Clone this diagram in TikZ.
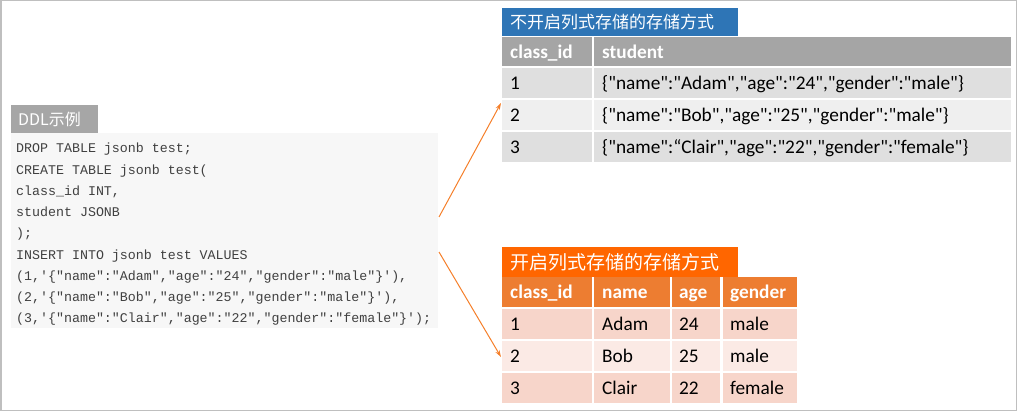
\documentclass[tikz,border=0pt]{standalone}
\usepackage{fontspec}
\setmonofont{Liberation Mono}
\newfontfamily\tabfont{Carlito}
\newfontfamily\cjk{Noto Sans CJK SC}
\usetikzlibrary{arrows.meta}
\definecolor{framegray}{HTML}{BFBFBF}
\definecolor{ddlgray}{HTML}{A6A6A6}
\definecolor{codebg}{HTML}{F7F7F7}
\definecolor{codetext}{HTML}{404040}
\definecolor{blueA}{HTML}{2E75B6}
\definecolor{hdrgray}{HTML}{A5A5A5}
\definecolor{rowgrayA}{HTML}{DFDFDF}
\definecolor{rowgrayB}{HTML}{EFEFEF}
\definecolor{orangeA}{HTML}{FF6600}
\definecolor{orangehdr}{HTML}{ED7D31}
\definecolor{peachA}{HTML}{F7D5CA}
\definecolor{peachB}{HTML}{FBEAE5}
\definecolor{arrowc}{HTML}{F57F2A}

\tikzset{
  cell/.style={anchor=north west, minimum height=30pt, inner xsep=8pt, inner ysep=0pt,
               align=left, text height=14pt, text depth=1pt,
               font=\tabfont\fontsize{19.3}{21}\selectfont, text=black},
  hcell/.style={cell, minimum height=29pt, text=white,
                font=\tabfont\bfseries\fontsize{19.3}{21}\selectfont},
  titlebox/.style={anchor=north west, inner xsep=8pt, inner ysep=0pt, align=left,
                   text=white, font=\cjk\fontsize{17}{20}\selectfont},
  link/.style={->, arrowc, line width=1pt}
}

\begin{document}
\begin{tikzpicture}[x=1pt, y=-1pt, >={Stealth[length=7pt,width=4.5pt]},
                    every node/.style={inner sep=0pt}]
  \useasboundingbox (0,0) rectangle (1018,412);
  \draw[framegray, line width=1.5pt] (0.75,0.75) rectangle (1016.5,410.5);

  % DDL example on the left
  \node[fill=codebg, anchor=north west, minimum width=427pt, minimum height=195pt]
       (code) at (11,133) {};
  \node[titlebox, fill=ddlgray, text width=73pt, minimum height=28pt, inner xsep=7pt,
        font=\cjk\fontsize{16}{20}\selectfont] (ddl) at (11,105) {DDL示例};
  \node[anchor=north west, align=left, text=codetext,
        font=\ttfamily\fontsize{13.3}{21.25}\selectfont] (ddltext) at (16,143)
       {DROP TABLE jsonb test;\\
        CREATE TABLE jsonb test(\\
        class\_id INT,\\
        student JSONB\\
        );\\
        INSERT INTO jsonb test VALUES\\
        (1,'\{"name":"Adam","age":"24","gender":"male"\}'),\\
        (2,'\{"name":"Bob","age":"25","gender":"male"\}'),\\
        (3,'\{"name":"Clair","age":"22","gender":"female"\}');};

  % without column store
  \node[titlebox, fill=blueA, text width=220pt, minimum height=28pt]
       (title1) at (502,8) {不开启列式存储的存储方式};
  \node[hcell, fill=hdrgray, text width=74pt]  (t1h1) at (502,37) {class\_id};
  \node[hcell, fill=hdrgray, text width=401pt] (t1h2) at (594,37) {student};
  \node[cell, fill=rowgrayA, text width=74pt]  (t1a1) at (502,68) {1};
  \node[cell, fill=rowgrayA, text width=401pt] (t1a2) at (594,68)
       {\{"name":"Adam","age":"24","gender":"male"\}};
  \node[cell, fill=rowgrayB, text width=74pt]  (t1b1) at (502,100) {2};
  \node[cell, fill=rowgrayB, text width=401pt] (t1b2) at (594,100)
       {\{"name":"Bob","age":"25","gender":"male"\}};
  \node[cell, fill=rowgrayA, text width=74pt]  (t1c1) at (502,132) {3};
  \node[cell, fill=rowgrayA, text width=401pt] (t1c2) at (594,132)
       {\{"name":“Clair","age":"22","gender":"female"\}};

  % with column store
  \node[titlebox, fill=orangeA, text width=220pt, minimum height=30pt,
        font=\cjk\fontsize{19}{22}\selectfont]
       (title2) at (502,247) {开启列式存储的存储方式};
  \node[hcell, fill=orangehdr, minimum height=30pt, text width=74pt] (t2h1) at (502,277) {class\_id};
  \node[hcell, fill=orangehdr, minimum height=30pt, text width=60pt] (t2h2) at (594,277) {name};
  \node[hcell, fill=orangehdr, minimum height=30pt, text width=34pt, inner xsep=7pt] (t2h3) at (672,277) {age};
  \node[hcell, fill=orangehdr, minimum height=30pt, text width=60pt, inner xsep=7pt] (t2h4) at (723,277) {gender};
  \node[cell, fill=peachA, text width=74pt] (t2a1) at (502,309) {1};
  \node[cell, fill=peachA, text width=60pt] (t2a2) at (594,309) {Adam};
  \node[cell, fill=peachA, text width=34pt, inner xsep=7pt] (t2a3) at (672,309) {24};
  \node[cell, fill=peachA, text width=60pt, inner xsep=7pt] (t2a4) at (723,309) {male};
  \node[cell, fill=peachB, text width=74pt] (t2b1) at (502,341) {2};
  \node[cell, fill=peachB, text width=60pt] (t2b2) at (594,341) {Bob};
  \node[cell, fill=peachB, text width=34pt, inner xsep=7pt] (t2b3) at (672,341) {25};
  \node[cell, fill=peachB, text width=60pt, inner xsep=7pt] (t2b4) at (723,341) {male};
  \node[cell, fill=peachA, text width=74pt] (t2c1) at (502,373) {3};
  \node[cell, fill=peachA, text width=60pt] (t2c2) at (594,373) {Clair};
  \node[cell, fill=peachA, text width=34pt, inner xsep=7pt] (t2c3) at (672,373) {22};
  \node[cell, fill=peachA, text width=60pt, inner xsep=7pt] (t2c4) at (723,373) {female};

  % links from the DDL to both layouts
  \coordinate (out1) at (439,217);
  \coordinate (out2) at (439,252);
  \coordinate (in1)  at (501,103);
  \coordinate (in2)  at (501,357);
  \draw[link] (out1) -- (in1);
  \draw[link] (out2) -- (in2);
\end{tikzpicture}
\end{document}
